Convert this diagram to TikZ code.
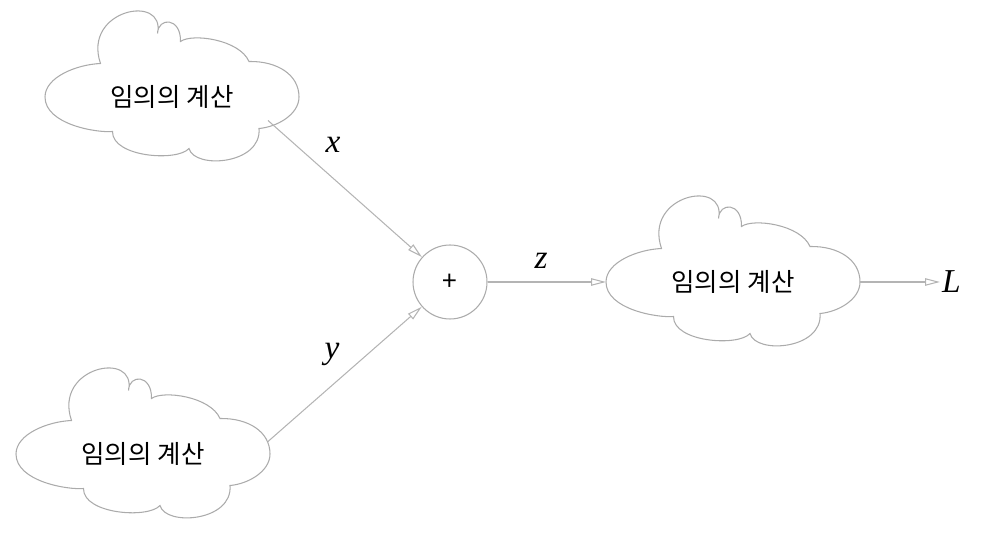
\documentclass[tikz,border=0pt]{standalone}
\usepackage{fontspec}
\setmainfont{Liberation Serif}
\newfontfamily\kofont{Noto Sans CJK KR}
\usepackage{xcolor}
\definecolor{lineGray}{HTML}{B4B4B4}
\definecolor{cloudGray}{HTML}{ABABAB}
\usepackage{tikz}
\usetikzlibrary{calc,arrows.meta}

\begin{document}
\begin{tikzpicture}[>={Triangle[open,length=0.3cm,width=0.15cm]},
    cloudtxt/.style={inner sep=0pt, font=\kofont\fontsize{14.5}{18}\selectfont},
    cloudline/.style={draw=cloudGray, line width=0.6pt},
    sumnode/.style={circle, draw=cloudGray, line width=0.6pt, minimum size=1.48cm,
      inner sep=0pt, font=\kofont\fontsize{15}{18}\selectfont},
    flow/.style={->, draw=lineGray, line width=0.6pt},
    lbl/.style={font=\fontsize{19}{22}\selectfont\itshape}]
  \useasboundingbox (0,0) rectangle (19.9,10.66);
  % three computation clouds and the adder
  \node[cloudtxt] (calcX) at (3.44,8.72) {임의의 계산};
  \node[cloudtxt] (calcY) at (2.86,1.58) {임의의 계산};
  \node[cloudtxt] (calcZ) at (14.66,5.02) {임의의 계산};
  \node[sumnode] (sum) at (9.0,5.02) {+};
  % the same outline round each cloud
  \foreach \c in {calcX,calcY,calcZ} {
    \draw[cloudline, shift={(\c.center)}]
      (-2.54,0) .. controls (-2.54,0.4) and (-1.9,0.65) .. (-1.43,0.67)
      .. controls (-1.8,1.75) and (-0.12,2.08) .. (-0.29,1.27)
      .. controls (-0.28,1.6) and (0.18,1.6) .. (0.17,1.11)
      .. controls (0.40,1.28) and (1.35,1.15) .. (1.54,0.71)
      .. controls (2.1,0.72) and (2.54,0.45) .. (2.54,0)
      .. controls (2.54,-0.35) and (2.1,-0.6) .. (1.74,-0.63)
      .. controls (1.80,-1.35) and (0.45,-1.45) .. (0.34,-1.03)
      .. controls (0.1,-1.3) and (-1.2,-1.2) .. (-1.19,-0.69)
      .. controls (-1.5,-0.72) and (-2.54,-0.55) .. (-2.54,0) -- cycle;
  }
  % where the connectors leave the clouds
  \coordinate (xout) at ($(calcX.center)+(1.92,-0.47)$);
  \coordinate (yout) at ($(calcY.center)+(2.5,0.25)$);
  \coordinate (zin) at ($(calcZ.center)+(-2.54,0)$);
  \coordinate (zout) at ($(calcZ.center)+(2.54,0)$);
  \node[lbl, anchor=west, inner sep=1pt] (lossL) at (18.8,5.02) {L};
  \draw[flow] (xout) -- (sum);
  \draw[flow] (yout) -- (sum);
  \draw[flow] (sum) -- (zin);
  \draw[flow] (zout) -- (lossL.west);
  \node[lbl] (lblX) at (6.66,7.76) {x};
  \node[lbl] (lblY) at (6.64,3.58) {y};
  \node[lbl] (lblZ) at (10.82,5.44) {z};
\end{tikzpicture}
\end{document}
